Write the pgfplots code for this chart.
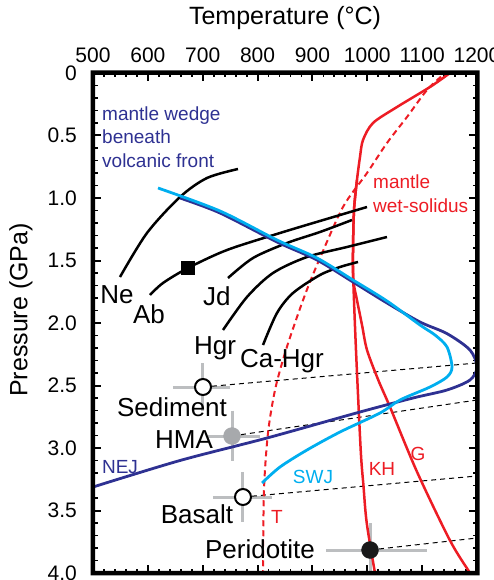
\documentclass[border=0pt]{standalone}
\usepackage{fontspec}
\setmainfont{Liberation Sans}
\usepackage{pgfplots}
\pgfplotsset{compat=1.18}
\definecolor{wred}{HTML}{ED1C24}
\definecolor{navyb}{HTML}{2E3192}
\definecolor{cyanb}{HTML}{00AEEF}
\definecolor{lgrey}{HTML}{BCBEC0}
\definecolor{mgrey}{HTML}{A7A9AC}
\newcommand\bigf{\fontsize{26}{30}\selectfont}
\newcommand\smf{\fontsize{19}{23}\selectfont}
\begin{document}
\begin{tikzpicture}
\path[use as bounding box] (-93pt,-7pt) rectangle (401pt,573pt);
\begin{axis}[
  at={(0pt,0pt)}, anchor=south west,
  scale only axis, width=384pt, height=500pt,
  xmin=500, xmax=1200, ymin=0, ymax=4, y dir=reverse,
  xtick={500,600,...,1200}, minor x tick num=4,
  ytick={0,0.5,1,1.5,2,2.5,3,3.5,4},
  yticklabels={0,0.5,1.0,1.5,2.0,2.5,3.0,3.5,4.0},
  minor y tick num=4,
  xticklabel pos=upper,
  xtick pos=both, ytick pos=both,
  xtick align=inside, ytick align=inside,
  major tick length=8pt, minor tick length=4.5pt,
  every major tick/.append style={line width=2pt, black},
  every minor tick/.append style={line width=1.8pt, black},
  axis line style={line width=4.5pt, black},
  /pgf/number format/assume math mode=true,
  /pgf/number format/1000 sep={},
  ticklabel style={font=\fontsize{21}{25}\selectfont, inner sep=0pt},
  xticklabel style={anchor=south, yshift=10pt},
  yticklabel style={anchor=east, xshift=-16pt},
  xlabel={Temperature (°C)},
  xlabel style={at={(axis description cs:0.5,1.11)}, anchor=center, font=\fontsize{25}{30}\selectfont},
  ylabel={Pressure (GPa)},
  ylabel style={at={(axis description cs:-0.1875,0.526)}, anchor=center, font=\fontsize{25}{30}\selectfont},
]
% error bars
\addplot[lgrey, line width=3pt] coordinates {(645.8,2.512) (749.7,2.512)};
\addplot[lgrey, line width=3pt] coordinates {(700.5,2.32) (700.5,2.70)};
\addplot[lgrey, line width=3pt] coordinates {(709.6,2.904) (804.4,2.904)};
\addplot[lgrey, line width=3pt] coordinates {(753.4,2.70) (753.4,3.10)};
\addplot[lgrey, line width=3pt] coordinates {(718.7,3.392) (826.3,3.392)};
\addplot[lgrey, line width=3pt] coordinates {(773.4,3.19) (773.4,3.59)};
\addplot[lgrey, line width=3pt] coordinates {(924.7,3.816) (1108.8,3.816)};
\addplot[lgrey, line width=3pt] coordinates {(1005,3.60) (1005,4.05)};
% dashed connectors
\addplot[black, line width=1pt, dash pattern=on 5pt off 4pt] coordinates {(700.5,2.512) (1200,2.32)};
\addplot[black, line width=1pt, dash pattern=on 5pt off 4pt] coordinates {(753.4,2.904) (1200,2.616)};
\addplot[black, line width=1pt, dash pattern=on 5pt off 4pt] coordinates {(773.4,3.392) (1200,3.224)};
\addplot[black, line width=1pt, dash pattern=on 5pt off 4pt] coordinates {(1005,3.816) (1200,3.72)};
% red curves
\addplot[wred, line width=2.5pt, smooth] coordinates {
 (1160,-0.03) (1150.8,0) (1114.3,0.112) (1054.2,0.272) (1010.4,0.4) (992.2,0.536) (986.7,0.672)
 (981.2,0.856) (975.8,1.096) (974,1.416) (974.5,1.656) (981.2,1.816) (990.4,2.016) (999.5,2.216)
 (1020,2.456) (1041.4,2.672) (1090.6,3.19) (1150.8,3.74) (1187.2,4.0) (1192,4.04)};
\addplot[wred, line width=2.5pt, smooth] coordinates {
 (981.2,0.856) (975.8,1.096) (974,1.416) (974.5,1.656) (979.4,2.216) (988,3.016) (993,3.3) (999,3.6) (1014,4.0) (1016,4.04)};
\addplot[wred, line width=2pt, smooth, dash pattern=on 6pt off 4pt] coordinates {
 (1146,-0.03) (1141.7,0) (1108.9,0.136) (1072.4,0.352) (1035.9,0.56) (999.5,0.8) (955.7,1.072)
 (913.8,1.48) (891.9,1.712) (871.9,1.952) (850,2.24) (831.8,2.536) (819,2.88) (811.7,3.336) (809.9,4.0) (809.9,4.04)};
% black reaction curves
\addplot[black, line width=2.5pt, smooth] coordinates {(549.2,1.632) (598.4,1.28) (658.6,0.992) (707.8,0.84) (764.3,0.768)};
\addplot[black, line width=2.5pt, smooth] coordinates {(603.9,1.776) (627.6,1.68) (673.2,1.56) (744.3,1.416) (840.9,1.28) (932,1.16) (999.5,1.072)};
\addplot[black, line width=2.5pt, smooth] coordinates {(746.1,1.64) (791.7,1.48) (853.6,1.36) (913.8,1.272) (972.1,1.176)};
\addplot[black, line width=2.5pt, smooth] coordinates {(737,2.056) (780.7,1.792) (828.1,1.6) (890.1,1.472) (963,1.392) (1035.9,1.312)};
\addplot[black, line width=2.5pt, smooth] coordinates {(809.9,2.176) (835.4,1.92) (864.6,1.76) (913.8,1.616) (950.3,1.552) (983.1,1.512)};
% NEJ
\addplot[navyb, line width=2.8pt, smooth] coordinates {
 (658.6,1.000) (731.5,1.120) (835.4,1.352) (908.3,1.496) (973.9,1.672) (1035.9,1.840) (1096.1,1.992)
 (1145.3,2.085) (1187.2,2.216) (1200,2.352) (1187.2,2.456) (1145.3,2.536) (1083.3,2.600)
 (986.7,2.712) (817.2,2.920) (658.6,3.100) (500,3.312)};
% SWJ
\addplot[cyanb, line width=2.8pt, smooth] coordinates {
 (618.5,0.920) (731.5,1.104) (835.4,1.336) (908.3,1.480) (973.9,1.656) (1035.9,1.824) (1096.1,2.016)
 (1123.4,2.096) (1145.3,2.192) (1154.4,2.352) (1145.3,2.432) (1114.3,2.512) (1059.6,2.616)
 (1023.2,2.720) (950.3,2.872) (890.1,3.016) (840.9,3.152) (808.1,3.280)};
% markers
\addplot[only marks, mark=square*, mark size=6.5pt, black] coordinates {(673.2,1.56)};
\addplot[only marks, mark=*, mark size=8pt, mark options={fill=white, draw=black, line width=2pt}] coordinates {(700.5,2.512) (773.4,3.392)};
\addplot[only marks, mark=*, mark size=8.5pt, mark options={fill=mgrey, draw=mgrey}] coordinates {(753.4,2.904)};
\addplot[only marks, mark=*, mark size=8.5pt, mark options={fill=black!90, draw=black!90}] coordinates {(1005,3.816)};
% labels
\node[anchor=base west, inner sep=0pt, text=navyb, font=\smf] at (axis cs:516.4,0.384) {mantle wedge};
\node[anchor=base west, inner sep=0pt, text=navyb, font=\smf] at (axis cs:516.4,0.568) {beneath};
\node[anchor=base west, inner sep=0pt, text=navyb, font=\smf] at (axis cs:516.4,0.76) {volcanic front};
\node[anchor=base west, inner sep=0pt, text=wred, font=\smf] at (axis cs:1010.4,0.928) {mantle};
\node[anchor=base west, inner sep=0pt, text=wred, font=\smf] at (axis cs:1010.4,1.12) {wet-solidus};
\node[anchor=base, inner sep=0pt, font=\bigf] at (axis cs:543.8,1.84) {Ne};
\node[anchor=base, inner sep=0pt, font=\bigf] at (axis cs:602.1,2.0) {Ab};
\node[anchor=base, inner sep=0pt, font=\bigf] at (axis cs:726,1.856) {Jd};
\node[anchor=base, inner sep=0pt, font=\bigf] at (axis cs:722.4,2.248) {Hgr};
\node[anchor=base, inner sep=0pt, font=\bigf] at (axis cs:844.5,2.352) {Ca-Hgr};
\node[anchor=base, inner sep=0pt, font=\bigf] at (axis cs:644,2.744) {Sediment};
\node[anchor=base, inner sep=0pt, font=\bigf] at (axis cs:665.9,3.0) {HMA};
\node[anchor=base, inner sep=0pt, font=\bigf] at (axis cs:689.6,3.6) {Basalt};
\node[anchor=base, inner sep=0pt, font=\bigf] at (axis cs:804.4,3.88) {Peridotite};
\node[anchor=base, inner sep=0pt, text=navyb, font=\smf] at (axis cs:549.2,3.2) {NEJ};
\node[anchor=base, inner sep=0pt, text=cyanb, font=\smf] at (axis cs:901,3.28) {SWJ};
\node[anchor=base, inner sep=0pt, text=wred, font=\smf] at (axis cs:835.4,3.6) {T};
\node[anchor=base, inner sep=0pt, text=wred, font=\smf] at (axis cs:1026.8,3.216) {KH};
\node[anchor=base, inner sep=0pt, text=wred, font=\smf] at (axis cs:1092.4,3.096) {G};
\end{axis}
\fill[black, even odd rule] (-2.5pt,-2.5pt) rectangle (386.5pt,502.5pt) (2pt,2pt) rectangle (382pt,498pt);
\end{tikzpicture}
\end{document}
